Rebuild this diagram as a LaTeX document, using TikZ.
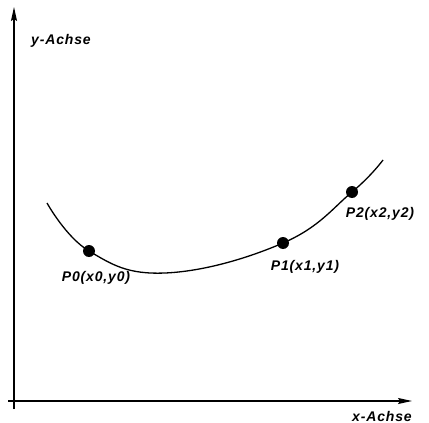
\documentclass[tikz,border=0pt]{standalone}
\usepackage{fontspec}
\setmainfont{Liberation Sans}
\usetikzlibrary{arrows.meta}
\begin{document}
\begin{tikzpicture}[x=1pt,y=-1pt,
  axis/.style={line width=1.3pt,-{Stealth[length=14pt,width=6pt,inset=2pt]}},
  curve/.style={line width=1.3pt},
  pt/.style={circle,fill=black,inner sep=0pt,minimum size=12pt},
  lbl/.style={font=\fontsize{14}{16}\selectfont\bfseries\itshape\addfontfeature{LetterSpace=6},inner sep=0pt}]
\useasboundingbox (0,0) rectangle (429,423);
\coordinate (ox) at (8,401);
\coordinate (oy) at (14,409);
\coordinate (xe) at (412,401);
\coordinate (ye) at (14,7);
\draw[axis] (ox) -- (xe);
\draw[axis] (oy) -- (ye);
\draw[curve] plot[smooth,tension=0.7] coordinates {(47,203) (89,251) (165,273) (283,243) (352,192) (383,160)};
\node[pt] (p0) at (89,251) {};
\node[pt] (p1) at (283,243) {};
\node[pt] (p2) at (352,192) {};
\node[lbl] (ly) at (61,41) {y-Achse};
\node[lbl] (lx) at (382,416) {x-Achse};
\node[lbl] (l0) at (96,278) {P0(x0,y0)};
\node[lbl] (l1) at (305,267) {P1(x1,y1)};
\node[lbl] (l2) at (380,214) {P2(x2,y2)};
\end{tikzpicture}
\end{document}
